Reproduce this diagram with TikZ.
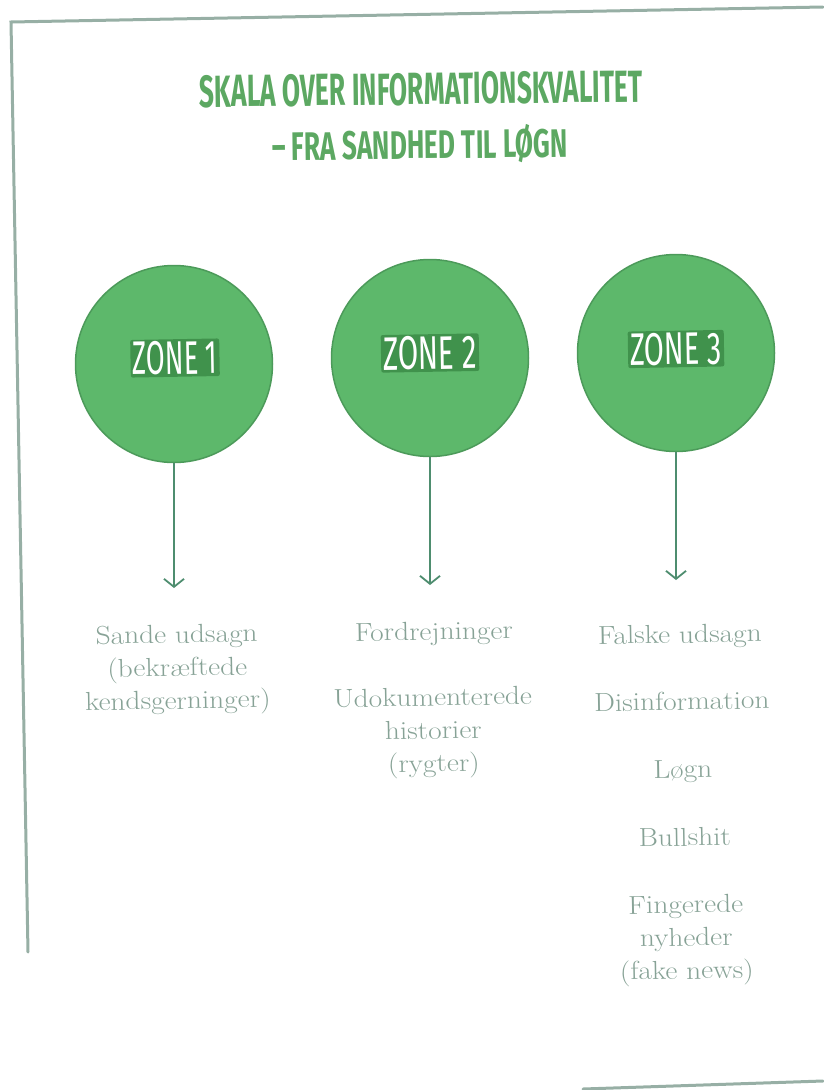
\documentclass[tikz,border=0pt]{standalone}
\usepackage{fontspec}
\usetikzlibrary{arrows.meta}
\newfontfamily\headfont{Fira Sans}
\newfontfamily\itemfont{Latin Modern Roman}[FakeStretch=1.13]
\definecolor{zonegreen}{HTML}{5DB86B}
\definecolor{zoneedge}{HTML}{4C9A5A}
\definecolor{titlegreen}{HTML}{5CA862}
\definecolor{halogreen}{HTML}{2E7A38}
\definecolor{itemgray}{HTML}{87A296}
\definecolor{arrowgreen}{HTML}{4E8D6F}
\definecolor{framegray}{HTML}{97AFA5}
\begin{document}
\begin{tikzpicture}[x=1pt,y=-1pt,
  zone/.style={circle, minimum size=197pt, inner sep=0pt, fill=zonegreen, draw=zoneedge, line width=1.5pt},
  zonelabel/.style={text=white, fill=halogreen, fill opacity=0.6, text opacity=1, inner sep=2pt, rounded corners=2pt, rotate=1},
  titleline/.style={text=titlegreen, inner sep=0pt, rotate=0.7},
  item/.style={text=itemgray, font=\itemfont\fontsize{26}{33}\selectfont, align=center, anchor=base, inner sep=0pt, rotate=1},
  link/.style={draw=arrowgreen, line width=1.8pt, -{Straight Barb[length=8pt,width=20pt,line width=1.8pt]}},
  frame/.style={draw=framegray, line width=3pt, line cap=round}]
\useasboundingbox (0,0) rectangle (823,1090);
% frame
\coordinate (f1) at (823,7);
\coordinate (f2) at (11,22);
\coordinate (f3) at (28,952);
\coordinate (f4) at (583,1089);
\coordinate (f5) at (823,1081);
\draw[frame] (f1) -- (f2) -- (f3);
\draw[frame] (f4) -- (f5);
% title
\node[titleline] (t1) at (421,89) {\resizebox{443pt}{32pt}{\headfont\bfseries SKALA OVER INFORMATIONSKVALITET}};
\node[titleline] (t2) at (420,145) {\resizebox{296pt}{33pt}{\headfont\bfseries – FRA SANDHED TIL LØGN}};
% zones
\node[zone] (z1) at (174,364) {};
\node[zone] (z2) at (430,358) {};
\node[zone] (z3) at (676,353) {};
\node[zonelabel] (l1) at (175,358) {\resizebox{85pt}{33pt}{\headfont ZONE 1}};
\node[zonelabel] (l2) at (430,353) {\resizebox{94pt}{33pt}{\headfont ZONE 2}};
\node[zonelabel] (l3) at (676,349) {\resizebox{92pt}{32pt}{\headfont ZONE 3}};
% arrows
\coordinate (a1) at (174,588);
\coordinate (a2) at (430,585);
\coordinate (a3) at (676,580);
\draw[link] (z1.south) -- (a1);
\draw[link] (z2.south) -- (a2);
\draw[link] (z3.south) -- (a3);
% items (multi-line nodes: base = last line)
\node[item] (c1a) at (178,709) {Sande udsagn\\(bekræftede\\kendsgerninger)};
\node[item] (c2a) at (434,640) {Fordrejninger};
\node[item] (c2b) at (434,772) {Udokumenterede\\historier\\(rygter)};
\node[item] (c3a) at (680,643) {Falske udsagn};
\node[item] (c3b) at (682,710) {Disinformation};
\node[item] (c3c) at (683,778) {Løgn};
\node[item] (c3d) at (685,846) {Bullshit};
\node[item] (c3e) at (687,979) {Fingerede\\nyheder\\(fake news)};
\end{tikzpicture}
\end{document}
